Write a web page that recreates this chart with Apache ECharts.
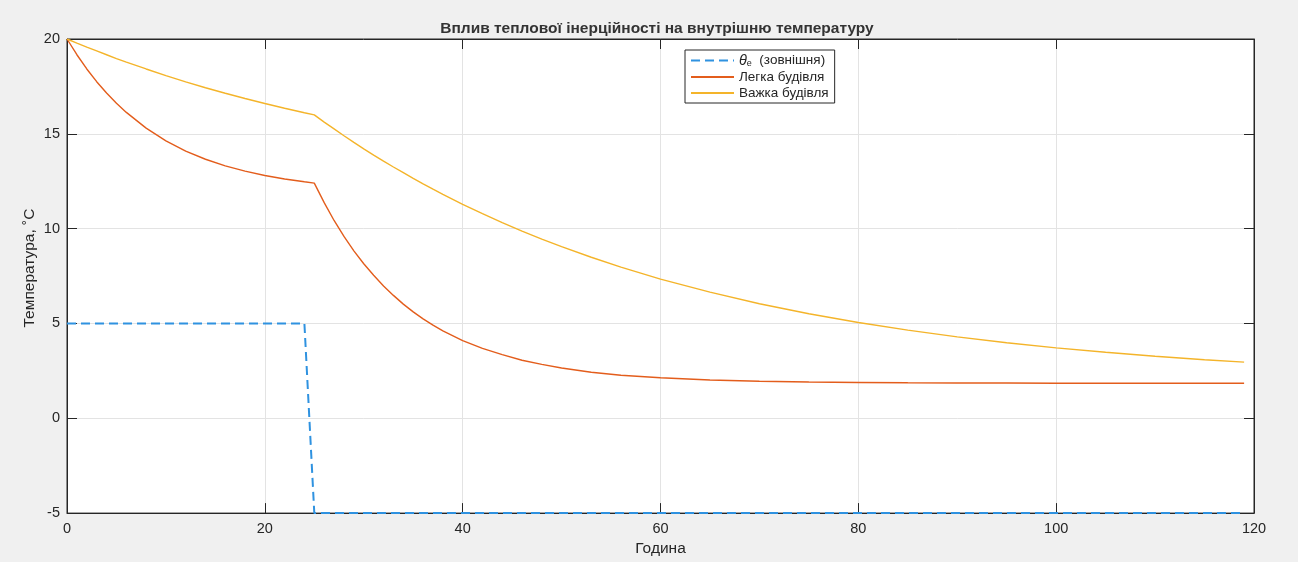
<!DOCTYPE html>
<html>
<head>
<meta charset="utf-8">
<script src="https://cdn.jsdelivr.net/npm/echarts@6/dist/echarts.min.js"></script>
<style>
html,body{margin:0;padding:0;background:#f0f0f0;}
#chart{width:1298px;height:562px;}
</style>
</head>
<body>
<div id="chart"></div>
<script>
// Hours for the building curves
const hours = [0,1,2,3,4,5,6,8,10,12,14,16,18,20,22,24,25,26,27,28,29,30,31,32,33,34,35,36,37,38,40,42,44,46,48,50,53,56,60,65,70,75,80,85,90,95,100,105,110,115,119];
// Light building (Легка будівля)
const light = [20,19.17,18.42,17.75,17.15,16.61,16.13,15.30,14.63,14.09,13.66,13.31,13.03,12.80,12.62,12.47,12.40,11.37,10.43,9.59,8.83,8.15,7.54,6.98,6.48,6.02,5.61,5.24,4.91,4.61,4.10,3.69,3.36,3.06,2.84,2.65,2.43,2.27,2.14,2.02,1.95,1.91,1.89,1.87,1.86,1.86,1.85,1.85,1.85,1.85,1.85];
// Heavy building (Важка будівля)
const heavy = [20,19.78,19.57,19.37,19.17,18.97,18.78,18.42,18.07,17.74,17.43,17.14,16.86,16.60,16.35,16.11,16.00,15.62,15.26,14.90,14.55,14.21,13.88,13.56,13.25,12.95,12.65,12.36,12.08,11.81,11.28,10.79,10.32,9.87,9.45,9.05,8.49,7.97,7.34,6.65,6.04,5.51,5.05,4.65,4.29,3.98,3.71,3.48,3.27,3.09,2.96];
// Outside temperature
const outsideHours = [0,24,25,119];
const outside = [5,5,-5,-5];

const xTicks = [0,20,40,60,80,100,120];
const yTicks = [-5,0,5,10,15,20];

const title = 'Вплив теплової інерційності на внутрішню температуру';
const xName = 'Година';
const yName = 'Температура, ˚C';
const names = ['θe (зовнішня)', 'Легка будівля', 'Важка будівля'];

const FONT = '"Liberation Sans", Arial, Helvetica, sans-serif';
const AX = '#262626';
const TXT = '#262626';

const pairs = (xs, ys) => xs.map((x, i) => [x, ys[i]]);

const chart = echarts.init(document.getElementById('chart'), null, {renderer: 'canvas'});
const mirrorAxis = {
  axisLine: {show: true, onZero: false, lineStyle: {color: AX, width: 1}},
  axisTick: {show: true, inside: true, length: 10, lineStyle: {color: AX}},
  splitLine: {show: false},
  axisLabel: {show: false}
};
chart.setOption({
  backgroundColor: '#f0f0f0',
  animation: false,
  textStyle: {fontFamily: FONT},
  title: {
    text: title, left: 652, top: 16, textAlign: 'center',
    textStyle: {fontSize: 15.5, fontWeight: 'bold', color: '#333333', fontFamily: FONT}
  },
  legend: {
    orient: 'vertical', left: 685, top: 50,
    backgroundColor: '#ffffff', borderColor: AX, borderWidth: 1,
    padding: [3, 6, 3, 5], itemGap: 2, itemWidth: 43, itemHeight: 13,
    itemStyle: {opacity: 0},
    data: names,
    textStyle: {
      fontSize: 13.5, color: TXT, fontFamily: FONT,
      rich: {
        th: {fontStyle: 'italic', fontSize: 14.5, color: TXT, fontFamily: FONT},
        sub: {fontSize: 9, color: TXT, verticalAlign: 'bottom', padding: [6, 0, 0, 0], fontFamily: FONT}
      }
    },
    formatter: function (n) {
      if (n === names[0]) return '{th|θ}{sub|e}  (зовнішня)';
      return n;
    }
  },
  grid: {left: 67, right: 44, top: 39, bottom: 48, show: true, backgroundColor: '#ffffff', borderColor: AX, borderWidth: 1},
  xAxis: [{
    type: 'value', min: 0, max: 120, interval: 20,
    name: xName, nameLocation: 'middle', nameGap: 26,
    nameTextStyle: {fontSize: 15.5, color: TXT, fontFamily: FONT},
    axisLine: {show: true, onZero: false, lineStyle: {color: AX, width: 1}},
    axisTick: {show: true, inside: true, length: 10, lineStyle: {color: AX}},
    axisLabel: {fontSize: 14.5, color: TXT, margin: 8, fontFamily: FONT,
      formatter: v => xTicks.includes(v) ? String(v) : ''},
    splitLine: {show: true, lineStyle: {color: '#e3e3e3', width: 1}}
  }, Object.assign({type: 'value', min: 0, max: 120, interval: 20, position: 'top'}, mirrorAxis)],
  yAxis: [{
    type: 'value', min: -5, max: 20, interval: 5,
    name: yName, nameLocation: 'middle', nameGap: 29, nameRotate: 90, nameMoveOverlap: false,
    nameTextStyle: {fontSize: 15.5, color: TXT, fontFamily: FONT, padding: [0, 0, 0, 16]},
    axisLine: {show: true, onZero: false, lineStyle: {color: AX, width: 1}},
    axisTick: {show: true, inside: true, length: 10, lineStyle: {color: AX}},
    axisLabel: {fontSize: 14.5, color: TXT, margin: 7, fontFamily: FONT,
      formatter: v => yTicks.includes(v) ? String(v) : ''},
    splitLine: {show: true, lineStyle: {color: '#e3e3e3', width: 1}}
  }, Object.assign({type: 'value', min: -5, max: 20, interval: 5, position: 'right'}, mirrorAxis)],
  series: [
    {name: names[0], type: 'line', data: pairs(outsideHours, outside), symbol: 'none', showSymbol: false,
      lineStyle: {color: '#2f92e0', width: 2, type: [9, 5]}, itemStyle: {color: '#2f92e0'}, z: 3},
    {name: names[1], type: 'line', data: pairs(hours, light), symbol: 'none', showSymbol: false,
      lineStyle: {color: '#e35d1c', width: 1.4}, itemStyle: {color: '#e35d1c'}, z: 2},
    {name: names[2], type: 'line', data: pairs(hours, heavy), symbol: 'none', showSymbol: false,
      lineStyle: {color: '#f4b42a', width: 1.4}, itemStyle: {color: '#f4b42a'}, z: 2}
  ]
});
</script>
</body>
</html>
